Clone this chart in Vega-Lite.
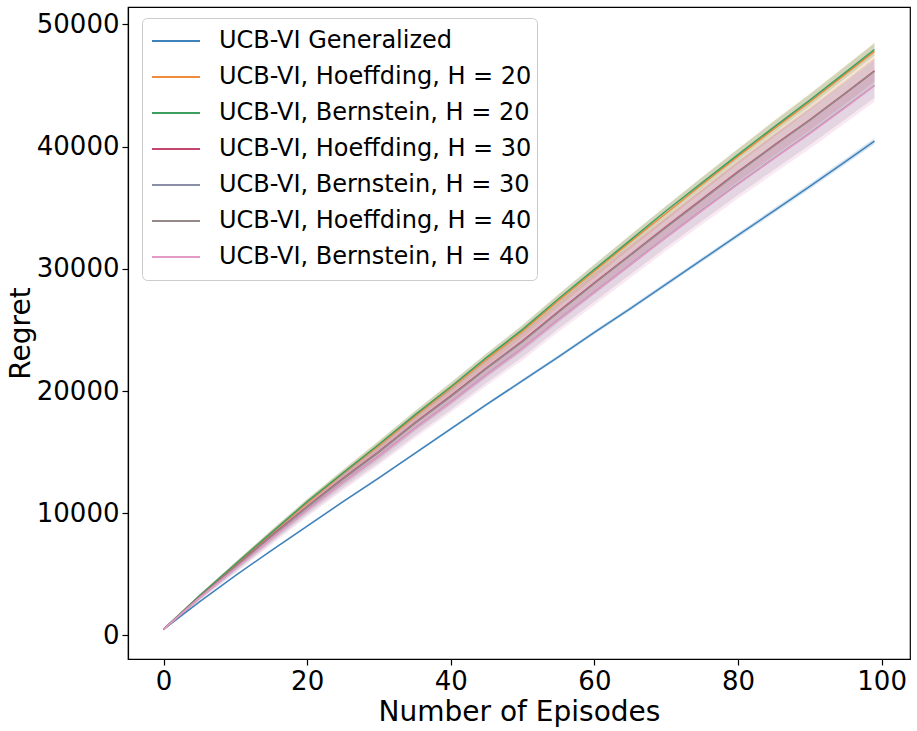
{
  "$schema": "https://vega.github.io/schema/vega-lite/v6.json",
  "width": 782,
  "height": 652,
  "autosize": "none",
  "padding": {"left": 128, "top": 7, "right": 7, "bottom": 72},
  "background": "white",
  "config": {
    "view": {"stroke": "black", "strokeWidth": 1.2},
    "font": "DejaVu Sans"
  },
  "data": {"values": [
    {"s":"UCB-VI Generalized","x":0,"y":500,"lo":480,"hi":520},
    {"s":"UCB-VI Generalized","x":5,"y":2750,"lo":2710,"hi":2790},
    {"s":"UCB-VI Generalized","x":10,"y":4900,"lo":4850,"hi":4950},
    {"s":"UCB-VI Generalized","x":15,"y":6950,"lo":6890,"hi":7010},
    {"s":"UCB-VI Generalized","x":20,"y":8950,"lo":8880,"hi":9020},
    {"s":"UCB-VI Generalized","x":25,"y":10950,"lo":10870,"hi":11030},
    {"s":"UCB-VI Generalized","x":30,"y":12900,"lo":12810,"hi":12990},
    {"s":"UCB-VI Generalized","x":35,"y":14900,"lo":14800,"hi":15000},
    {"s":"UCB-VI Generalized","x":40,"y":16900,"lo":16790,"hi":17010},
    {"s":"UCB-VI Generalized","x":45,"y":18900,"lo":18780,"hi":19020},
    {"s":"UCB-VI Generalized","x":50,"y":20850,"lo":20720,"hi":20980},
    {"s":"UCB-VI Generalized","x":55,"y":22800,"lo":22660,"hi":22940},
    {"s":"UCB-VI Generalized","x":60,"y":24800,"lo":24650,"hi":24950},
    {"s":"UCB-VI Generalized","x":65,"y":26750,"lo":26590,"hi":26910},
    {"s":"UCB-VI Generalized","x":70,"y":28750,"lo":28580,"hi":28920},
    {"s":"UCB-VI Generalized","x":75,"y":30750,"lo":30570,"hi":30930},
    {"s":"UCB-VI Generalized","x":80,"y":32750,"lo":32560,"hi":32940},
    {"s":"UCB-VI Generalized","x":85,"y":34750,"lo":34550,"hi":34950},
    {"s":"UCB-VI Generalized","x":90,"y":36750,"lo":36540,"hi":36960},
    {"s":"UCB-VI Generalized","x":95,"y":38800,"lo":38580,"hi":39020},
    {"s":"UCB-VI Generalized","x":99,"y":40450,"lo":40220,"hi":40680},

    {"s":"UCB-VI, Hoeffding, H = 20","x":0,"y":500,"lo":430,"hi":570},
    {"s":"UCB-VI, Hoeffding, H = 20","x":5,"y":3200,"lo":3060,"hi":3340},
    {"s":"UCB-VI, Hoeffding, H = 20","x":10,"y":5800,"lo":5590,"hi":6010},
    {"s":"UCB-VI, Hoeffding, H = 20","x":15,"y":8350,"lo":8070,"hi":8630},
    {"s":"UCB-VI, Hoeffding, H = 20","x":20,"y":10850,"lo":10540,"hi":11160},
    {"s":"UCB-VI, Hoeffding, H = 20","x":25,"y":13250,"lo":12900,"hi":13600},
    {"s":"UCB-VI, Hoeffding, H = 20","x":30,"y":15550,"lo":15160,"hi":15940},
    {"s":"UCB-VI, Hoeffding, H = 20","x":35,"y":17950,"lo":17530,"hi":18370},
    {"s":"UCB-VI, Hoeffding, H = 20","x":40,"y":20250,"lo":19800,"hi":20700},
    {"s":"UCB-VI, Hoeffding, H = 20","x":45,"y":22600,"lo":22120,"hi":23080},
    {"s":"UCB-VI, Hoeffding, H = 20","x":50,"y":24900,"lo":24400,"hi":25400},
    {"s":"UCB-VI, Hoeffding, H = 20","x":55,"y":27400,"lo":26870,"hi":27930},
    {"s":"UCB-VI, Hoeffding, H = 20","x":60,"y":29800,"lo":29240,"hi":30360},
    {"s":"UCB-VI, Hoeffding, H = 20","x":65,"y":32200,"lo":31630,"hi":32770},
    {"s":"UCB-VI, Hoeffding, H = 20","x":70,"y":34550,"lo":33960,"hi":35140},
    {"s":"UCB-VI, Hoeffding, H = 20","x":75,"y":36900,"lo":36280,"hi":37520},
    {"s":"UCB-VI, Hoeffding, H = 20","x":80,"y":39200,"lo":38570,"hi":39830},
    {"s":"UCB-VI, Hoeffding, H = 20","x":85,"y":41450,"lo":40790,"hi":42110},
    {"s":"UCB-VI, Hoeffding, H = 20","x":90,"y":43650,"lo":42980,"hi":44320},
    {"s":"UCB-VI, Hoeffding, H = 20","x":95,"y":45950,"lo":45260,"hi":46640},
    {"s":"UCB-VI, Hoeffding, H = 20","x":99,"y":47800,"lo":47100,"hi":48500},

    {"s":"UCB-VI, Bernstein, H = 20","x":0,"y":500,"lo":450,"hi":550},
    {"s":"UCB-VI, Bernstein, H = 20","x":5,"y":3250,"lo":3150,"hi":3350},
    {"s":"UCB-VI, Bernstein, H = 20","x":10,"y":5850,"lo":5700,"hi":6000},
    {"s":"UCB-VI, Bernstein, H = 20","x":15,"y":8400,"lo":8200,"hi":8600},
    {"s":"UCB-VI, Bernstein, H = 20","x":20,"y":10950,"lo":10730,"hi":11170},
    {"s":"UCB-VI, Bernstein, H = 20","x":25,"y":13300,"lo":13050,"hi":13550},
    {"s":"UCB-VI, Bernstein, H = 20","x":30,"y":15650,"lo":15370,"hi":15930},
    {"s":"UCB-VI, Bernstein, H = 20","x":35,"y":18050,"lo":17750,"hi":18350},
    {"s":"UCB-VI, Bernstein, H = 20","x":40,"y":20350,"lo":20030,"hi":20670},
    {"s":"UCB-VI, Bernstein, H = 20","x":45,"y":22750,"lo":22410,"hi":23090},
    {"s":"UCB-VI, Bernstein, H = 20","x":50,"y":25050,"lo":24690,"hi":25410},
    {"s":"UCB-VI, Bernstein, H = 20","x":55,"y":27550,"lo":27170,"hi":27930},
    {"s":"UCB-VI, Bernstein, H = 20","x":60,"y":29950,"lo":29550,"hi":30350},
    {"s":"UCB-VI, Bernstein, H = 20","x":65,"y":32350,"lo":31940,"hi":32760},
    {"s":"UCB-VI, Bernstein, H = 20","x":70,"y":34750,"lo":34330,"hi":35170},
    {"s":"UCB-VI, Bernstein, H = 20","x":75,"y":37050,"lo":36610,"hi":37490},
    {"s":"UCB-VI, Bernstein, H = 20","x":80,"y":39350,"lo":38900,"hi":39800},
    {"s":"UCB-VI, Bernstein, H = 20","x":85,"y":41600,"lo":41130,"hi":42070},
    {"s":"UCB-VI, Bernstein, H = 20","x":90,"y":43800,"lo":43320,"hi":44280},
    {"s":"UCB-VI, Bernstein, H = 20","x":95,"y":46100,"lo":45610,"hi":46590},
    {"s":"UCB-VI, Bernstein, H = 20","x":99,"y":47950,"lo":47450,"hi":48450},

    {"s":"UCB-VI, Hoeffding, H = 30","x":0,"y":500,"lo":410,"hi":590},
    {"s":"UCB-VI, Hoeffding, H = 30","x":5,"y":3150,"lo":2970,"hi":3330},
    {"s":"UCB-VI, Hoeffding, H = 30","x":10,"y":5650,"lo":5380,"hi":5920},
    {"s":"UCB-VI, Hoeffding, H = 30","x":15,"y":8150,"lo":7790,"hi":8510},
    {"s":"UCB-VI, Hoeffding, H = 30","x":20,"y":10550,"lo":10150,"hi":10950},
    {"s":"UCB-VI, Hoeffding, H = 30","x":25,"y":12850,"lo":12400,"hi":13300},
    {"s":"UCB-VI, Hoeffding, H = 30","x":30,"y":15050,"lo":14550,"hi":15550},
    {"s":"UCB-VI, Hoeffding, H = 30","x":35,"y":17400,"lo":16860,"hi":17940},
    {"s":"UCB-VI, Hoeffding, H = 30","x":40,"y":19600,"lo":19020,"hi":20180},
    {"s":"UCB-VI, Hoeffding, H = 30","x":45,"y":21900,"lo":21290,"hi":22510},
    {"s":"UCB-VI, Hoeffding, H = 30","x":50,"y":24100,"lo":23450,"hi":24750},
    {"s":"UCB-VI, Hoeffding, H = 30","x":55,"y":26500,"lo":25820,"hi":27180},
    {"s":"UCB-VI, Hoeffding, H = 30","x":60,"y":28850,"lo":28130,"hi":29570},
    {"s":"UCB-VI, Hoeffding, H = 30","x":65,"y":31150,"lo":30410,"hi":31890},
    {"s":"UCB-VI, Hoeffding, H = 30","x":70,"y":33450,"lo":32690,"hi":34210},
    {"s":"UCB-VI, Hoeffding, H = 30","x":75,"y":35700,"lo":34910,"hi":36490},
    {"s":"UCB-VI, Hoeffding, H = 30","x":80,"y":37950,"lo":37140,"hi":38760},
    {"s":"UCB-VI, Hoeffding, H = 30","x":85,"y":40100,"lo":39250,"hi":40950},
    {"s":"UCB-VI, Hoeffding, H = 30","x":90,"y":42200,"lo":41340,"hi":43060},
    {"s":"UCB-VI, Hoeffding, H = 30","x":95,"y":44400,"lo":43520,"hi":45280},
    {"s":"UCB-VI, Hoeffding, H = 30","x":99,"y":46200,"lo":45300,"hi":47100},

    {"s":"UCB-VI, Bernstein, H = 30","x":0,"y":500,"lo":400,"hi":600},
    {"s":"UCB-VI, Bernstein, H = 30","x":5,"y":3100,"lo":2900,"hi":3300},
    {"s":"UCB-VI, Bernstein, H = 30","x":10,"y":5500,"lo":5200,"hi":5800},
    {"s":"UCB-VI, Bernstein, H = 30","x":15,"y":7950,"lo":7550,"hi":8350},
    {"s":"UCB-VI, Bernstein, H = 30","x":20,"y":10300,"lo":9860,"hi":10740},
    {"s":"UCB-VI, Bernstein, H = 30","x":25,"y":12550,"lo":12050,"hi":13050},
    {"s":"UCB-VI, Bernstein, H = 30","x":30,"y":14700,"lo":14140,"hi":15260},
    {"s":"UCB-VI, Bernstein, H = 30","x":35,"y":16950,"lo":16350,"hi":17550},
    {"s":"UCB-VI, Bernstein, H = 30","x":40,"y":19100,"lo":18460,"hi":19740},
    {"s":"UCB-VI, Bernstein, H = 30","x":45,"y":21350,"lo":20670,"hi":22030},
    {"s":"UCB-VI, Bernstein, H = 30","x":50,"y":23500,"lo":22780,"hi":24220},
    {"s":"UCB-VI, Bernstein, H = 30","x":55,"y":25850,"lo":25090,"hi":26610},
    {"s":"UCB-VI, Bernstein, H = 30","x":60,"y":28100,"lo":27300,"hi":28900},
    {"s":"UCB-VI, Bernstein, H = 30","x":65,"y":30350,"lo":29530,"hi":31170},
    {"s":"UCB-VI, Bernstein, H = 30","x":70,"y":32600,"lo":31760,"hi":33440},
    {"s":"UCB-VI, Bernstein, H = 30","x":75,"y":34800,"lo":33920,"hi":35680},
    {"s":"UCB-VI, Bernstein, H = 30","x":80,"y":36950,"lo":36050,"hi":37850},
    {"s":"UCB-VI, Bernstein, H = 30","x":85,"y":39050,"lo":38110,"hi":39990},
    {"s":"UCB-VI, Bernstein, H = 30","x":90,"y":41100,"lo":40140,"hi":42060},
    {"s":"UCB-VI, Bernstein, H = 30","x":95,"y":43250,"lo":42270,"hi":44230},
    {"s":"UCB-VI, Bernstein, H = 30","x":99,"y":45000,"lo":44000,"hi":46000},

    {"s":"UCB-VI, Hoeffding, H = 40","x":0,"y":500,"lo":390,"hi":610},
    {"s":"UCB-VI, Hoeffding, H = 40","x":5,"y":3130,"lo":2910,"hi":3350},
    {"s":"UCB-VI, Hoeffding, H = 40","x":10,"y":5620,"lo":5290,"hi":5950},
    {"s":"UCB-VI, Hoeffding, H = 40","x":15,"y":8100,"lo":7660,"hi":8540},
    {"s":"UCB-VI, Hoeffding, H = 40","x":20,"y":10500,"lo":10020,"hi":10980},
    {"s":"UCB-VI, Hoeffding, H = 40","x":25,"y":12800,"lo":12250,"hi":13350},
    {"s":"UCB-VI, Hoeffding, H = 40","x":30,"y":15000,"lo":14380,"hi":15620},
    {"s":"UCB-VI, Hoeffding, H = 40","x":35,"y":17350,"lo":16690,"hi":18010},
    {"s":"UCB-VI, Hoeffding, H = 40","x":40,"y":19550,"lo":18850,"hi":20250},
    {"s":"UCB-VI, Hoeffding, H = 40","x":45,"y":21850,"lo":21100,"hi":22600},
    {"s":"UCB-VI, Hoeffding, H = 40","x":50,"y":24050,"lo":23260,"hi":24840},
    {"s":"UCB-VI, Hoeffding, H = 40","x":55,"y":26450,"lo":25610,"hi":27290},
    {"s":"UCB-VI, Hoeffding, H = 40","x":60,"y":28800,"lo":27920,"hi":29680},
    {"s":"UCB-VI, Hoeffding, H = 40","x":65,"y":31100,"lo":30200,"hi":32000},
    {"s":"UCB-VI, Hoeffding, H = 40","x":70,"y":33400,"lo":32480,"hi":34320},
    {"s":"UCB-VI, Hoeffding, H = 40","x":75,"y":35650,"lo":34680,"hi":36620},
    {"s":"UCB-VI, Hoeffding, H = 40","x":80,"y":37900,"lo":36910,"hi":38890},
    {"s":"UCB-VI, Hoeffding, H = 40","x":85,"y":40050,"lo":39020,"hi":41080},
    {"s":"UCB-VI, Hoeffding, H = 40","x":90,"y":42150,"lo":41090,"hi":43210},
    {"s":"UCB-VI, Hoeffding, H = 40","x":95,"y":44350,"lo":43270,"hi":45430},
    {"s":"UCB-VI, Hoeffding, H = 40","x":99,"y":46150,"lo":45050,"hi":47250},

    {"s":"UCB-VI, Bernstein, H = 40","x":0,"y":500,"lo":370,"hi":630},
    {"s":"UCB-VI, Bernstein, H = 40","x":5,"y":3080,"lo":2820,"hi":3340},
    {"s":"UCB-VI, Bernstein, H = 40","x":10,"y":5480,"lo":5090,"hi":5870},
    {"s":"UCB-VI, Bernstein, H = 40","x":15,"y":7920,"lo":7400,"hi":8440},
    {"s":"UCB-VI, Bernstein, H = 40","x":20,"y":10270,"lo":9700,"hi":10840},
    {"s":"UCB-VI, Bernstein, H = 40","x":25,"y":12520,"lo":11870,"hi":13170},
    {"s":"UCB-VI, Bernstein, H = 40","x":30,"y":14680,"lo":13950,"hi":15410},
    {"s":"UCB-VI, Bernstein, H = 40","x":35,"y":16920,"lo":16140,"hi":17700},
    {"s":"UCB-VI, Bernstein, H = 40","x":40,"y":19070,"lo":18240,"hi":19900},
    {"s":"UCB-VI, Bernstein, H = 40","x":45,"y":21320,"lo":20440,"hi":22200},
    {"s":"UCB-VI, Bernstein, H = 40","x":50,"y":23470,"lo":22530,"hi":24410},
    {"s":"UCB-VI, Bernstein, H = 40","x":55,"y":25820,"lo":24830,"hi":26810},
    {"s":"UCB-VI, Bernstein, H = 40","x":60,"y":28070,"lo":27030,"hi":29110},
    {"s":"UCB-VI, Bernstein, H = 40","x":65,"y":30320,"lo":29250,"hi":31390},
    {"s":"UCB-VI, Bernstein, H = 40","x":70,"y":32570,"lo":31480,"hi":33660},
    {"s":"UCB-VI, Bernstein, H = 40","x":75,"y":34770,"lo":33630,"hi":35910},
    {"s":"UCB-VI, Bernstein, H = 40","x":80,"y":36920,"lo":35750,"hi":38090},
    {"s":"UCB-VI, Bernstein, H = 40","x":85,"y":39020,"lo":37800,"hi":40240},
    {"s":"UCB-VI, Bernstein, H = 40","x":90,"y":41070,"lo":39820,"hi":42320},
    {"s":"UCB-VI, Bernstein, H = 40","x":95,"y":43220,"lo":41950,"hi":44490},
    {"s":"UCB-VI, Bernstein, H = 40","x":99,"y":44970,"lo":43670,"hi":46270}
  ]},
  "encoding": {
    "x": {
      "field": "x", "type": "quantitative",
      "scale": {"domain": [-4.95, 103.95], "nice": false, "zero": false},
      "axis": {
        "title": "Number of Episodes", "values": [0, 20, 40, 60, 80, 100],
        "grid": false, "domainColor": "black", "domainWidth": 1.2,
        "tickColor": "black", "tickWidth": 1.2, "tickSize": 6,
        "labelFontSize": 26, "labelColor": "black", "labelPadding": 3,
        "titleFontSize": 28, "titleFontWeight": "normal", "titleColor": "black", "titlePadding": 4
      }
    },
    "color": {
      "field": "s", "type": "nominal",
      "scale": {
        "domain": ["UCB-VI Generalized", "UCB-VI, Hoeffding, H = 20", "UCB-VI, Bernstein, H = 20", "UCB-VI, Hoeffding, H = 30", "UCB-VI, Bernstein, H = 30", "UCB-VI, Hoeffding, H = 40", "UCB-VI, Bernstein, H = 40"],
        "range": ["#3f82bb", "#f08a3c", "#3ea060", "#c4466c", "#8a8ea6", "#958a88", "#e59ac6"]
      },
      "legend": {
        "orient": "none", "legendX": 14, "legendY": 11, "title": null,
        "labelFontSize": 24, "labelColor": "black", "labelLimit": 500,
        "symbolType": "stroke", "symbolSize": 2304, "symbolStrokeWidth": 2, "symbolOpacity": 1,
        "clipHeight": 36, "rowPadding": 0, "labelOffset": 18, "symbolOffset": 4,
        "padding": 5, "fillColor": "rgba(255,255,255,0.85)", "strokeColor": "#cccccc", "cornerRadius": 5
      }
    }
  },
  "layer": [
    {
      "mark": {"type": "area", "opacity": 0.22},
      "encoding": {
        "y": {"field": "lo", "type": "quantitative"},
        "y2": {"field": "hi"}
      }
    },
    {
      "mark": {"type": "line", "strokeWidth": 1.5},
      "encoding": {
        "y": {
          "field": "y", "type": "quantitative",
          "scale": {"domain": [-1925, 51425], "nice": false, "zero": false},
          "axis": {
            "title": "Regret", "values": [0, 10000, 20000, 30000, 40000, 50000], "format": "d",
            "grid": false, "domainColor": "black", "domainWidth": 1.2,
            "tickColor": "black", "tickWidth": 1.2, "tickSize": 6,
            "labelFontSize": 26, "labelColor": "black", "labelPadding": 3,
            "titleFontSize": 28, "titleFontWeight": "normal", "titleColor": "black", "titlePadding": 1
          }
        }
      }
    }
  ]
}
